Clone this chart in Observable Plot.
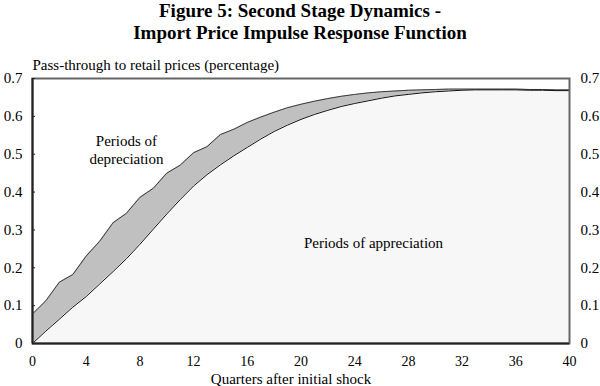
<!DOCTYPE html>
<html>
<head>
<meta charset="utf-8">
<script src="https://cdn.jsdelivr.net/npm/d3@7"></script>
<script src="https://cdn.jsdelivr.net/npm/@observablehq/plot@0.6"></script>
<style>
  html, body { margin: 0; padding: 0; background: #fff; }
  #wrap { width: 600px; height: 386px; overflow: hidden; }
  #title { height: 50px; font-family: "Liberation Serif", "Times New Roman", serif; font-weight: bold; font-size: 19px; line-height: 22px; text-align: center; color: #000; }
  #title div { position: relative; top: 0px; }
  svg { display: block; }
</style>
</head>
<body>
<div id="wrap">
  <div id="title"><div>Figure 5: Second Stage Dynamics -<br>Import Price Impulse Response Function</div></div>
  <div id="chart"></div>
</div>
<script>
const quarters = [0,1,2,3,4,5,6,7,8,9,10,11,12,13,14,15,16,17,18,19,20,21,22,23,24,25,26,27,28,29,30,31,32,33,34,35,36,37,38,39,40];
const depreciation = [0.078,0.113,0.162,0.182,0.231,0.270,0.319,0.344,0.386,0.410,0.450,0.471,0.504,0.520,0.552,0.566,0.584,0.598,0.611,0.623,0.632,0.640,0.647,0.653,0.658,0.662,0.665,0.667,0.669,0.670,0.671,0.672,0.672,0.672,0.672,0.672,0.672,0.671,0.671,0.670,0.670];
const appreciation = [0.000,0.033,0.064,0.096,0.124,0.157,0.190,0.224,0.262,0.302,0.342,0.380,0.416,0.446,0.472,0.496,0.518,0.540,0.560,0.577,0.592,0.605,0.616,0.626,0.634,0.641,0.648,0.654,0.658,0.662,0.665,0.667,0.669,0.670,0.670,0.670,0.670,0.669,0.669,0.668,0.668];
const xTicks = [0,4,8,12,16,20,24,28,32,36,40];
const yTicks = [0,0.1,0.2,0.3,0.4,0.5,0.6,0.7];
const yTickLabels = ["0","0.1","0.2","0.3","0.4","0.5","0.6","0.7"];
const labels = {
  yTitle: "Pass-through to retail prices (percentage)",
  xTitle: "Quarters after initial shock",
  dep1: "Periods of", dep2: "depreciation", app: "Periods of appreciation"
};

const data = quarters.map((q, i) => ({q, hi: depreciation[i], lo: appreciation[i]}));
const fmt = d => yTickLabels[yTicks.indexOf(d)];
const serif = "'Liberation Serif', 'Times New Roman', serif";

const chart = Plot.plot({
  width: 600,
  height: 336,
  marginTop: 28,
  marginBottom: 43,
  marginLeft: 32,
  marginRight: 31,
  style: {fontFamily: serif, fontSize: "15px", color: "#000", background: "#fff"},
  x: {domain: [0, 40]},
  y: {domain: [0, 0.7]},
  marks: [
    Plot.areaY(data, {x: "q", y: "lo", fill: "#f7f7f7"}),
    Plot.areaY(data, {x: "q", y1: "lo", y2: "hi", fill: "#c0c0c0"}),
    Plot.lineY(data, {x: "q", y: "hi", stroke: "#3a3a3a", strokeWidth: 1}),
    Plot.lineY(data, {x: "q", y: "lo", stroke: "#111", strokeWidth: 1}),
    Plot.frame({stroke: "#666", strokeWidth: 2}),
    Plot.ruleX([0], {stroke: "#222", strokeWidth: 2}),
    Plot.ruleY([0], {stroke: "#222", strokeWidth: 2}),
    Plot.axisY(yTicks, {anchor: "left", tickSize: -3, text: null, stroke: "#222"}),
    Plot.axisY(yTicks, {anchor: "left", tickSize: 0, tickPadding: 10, tickFormat: fmt, fontSize: 15, label: null}),
    Plot.axisY(yTicks, {anchor: "right", tickSize: 0, tickPadding: 11, tickFormat: fmt, fontSize: 15, label: null}),
    Plot.axisX(xTicks, {anchor: "bottom", tickSize: 0, tickPadding: 13, fontSize: 14, label: null}),
    Plot.text([labels.yTitle], {frameAnchor: "top-left", textAnchor: "start", lineAnchor: "middle", dy: -13, dx: 0, fontSize: 15}),
    Plot.text([labels.xTitle], {frameAnchor: "bottom", textAnchor: "middle", lineAnchor: "middle", dy: 35.5, dx: -10, fontSize: 15}),
    Plot.text([{x: 7.0, y: 0.535, t: labels.dep1}, {x: 7.0, y: 0.487, t: labels.dep2}], {x: "x", y: "y", text: "t", textAnchor: "middle", lineAnchor: "middle", fontSize: 15}),
    Plot.text([{x: 25.4, y: 0.265, t: labels.app}], {x: "x", y: "y", text: "t", textAnchor: "middle", lineAnchor: "middle", fontSize: 15})
  ]
});
document.getElementById("chart").appendChild(chart);
</script>
</body>
</html>
